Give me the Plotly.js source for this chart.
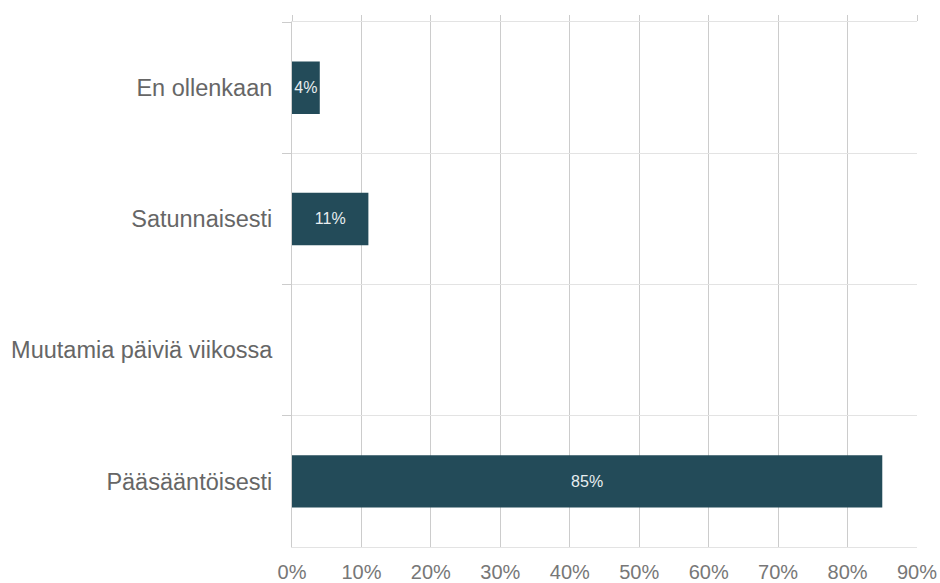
<!DOCTYPE html>
<html>
<head>
<meta charset="utf-8">
<script src="https://cdn.plot.ly/plotly-3.0.1.min.js"></script>
<style>html,body{margin:0;padding:0;background:#fff;}#chart{width:940px;height:583px;}</style>
</head>
<body>
<div id="chart"></div>
<script>
const categories = ["En ollenkaan", "Satunnaisesti", "Muutamia päiviä viikossa", "Pääsääntöisesti"];
const values = [4, 11, 0, 85];
const labels = ["4%", "11%", "", "85%"];
const xTicks = [0, 10, 20, 30, 40, 50, 60, 70, 80, 90];

const trace = {
  type: "bar",
  orientation: "h",
  y: categories,
  x: values,
  text: labels,
  textposition: "inside",
  insidetextanchor: "middle",
  textangle: 0,
  constraintext: "none",
  textfont: {family: "Liberation Sans, Arial, sans-serif", size: 16, color: "#e8eef0"},
  marker: {color: "#234b59"},
  width: 0.4,
  hoverinfo: "none",
  cliponaxis: true
};

const layout = {
  width: 940, height: 583,
  margin: {l: 292, r: 23, t: 22, b: 36},
  paper_bgcolor: "#fff", plot_bgcolor: "#fff",
  showlegend: false,
  font: {family: "Liberation Sans, Arial, sans-serif", color: "#666"},
  xaxis: {
    range: [0, 90],
    tickvals: xTicks,
    ticktext: xTicks.map(v => v + "%"),
    showgrid: true, gridcolor: "#cccccc", gridwidth: 1,
    zeroline: false,
    showline: true, mirror: true, linecolor: "#e3e3e3", linewidth: 1,
    ticks: "outside", ticklen: 7, tickcolor: "rgba(0,0,0,0)",
    tickfont: {size: 20, color: "#777"},
    fixedrange: true
  },
  xaxis2: {
    overlaying: "x", side: "top", range: [0, 90], tickvals: xTicks,
    showticklabels: false, ticks: "outside", ticklen: 6, tickcolor: "#cccccc",
    showgrid: false, zeroline: false, showline: false
  },
  yaxis: {
    type: "category",
    autorange: "reversed",
    tickson: "boundaries",
    showgrid: true, gridcolor: "#e3e3e3", gridwidth: 1,
    ticks: "outside", ticklen: 9, tickcolor: "#cccccc",
    showline: true, linecolor: "#cccccc", linewidth: 1,
    tickfont: {size: 23.5, color: "#666"},
    ticklabelstandoff: 14,
    fixedrange: true
  }
};

Plotly.newPlot("chart", [trace, {type: "scatter", x: [], y: [], xaxis: "x2", yaxis: "y", showlegend: false, hoverinfo: "none"}], layout, {staticPlot: true, displayModeBar: false});
</script>
</body>
</html>
